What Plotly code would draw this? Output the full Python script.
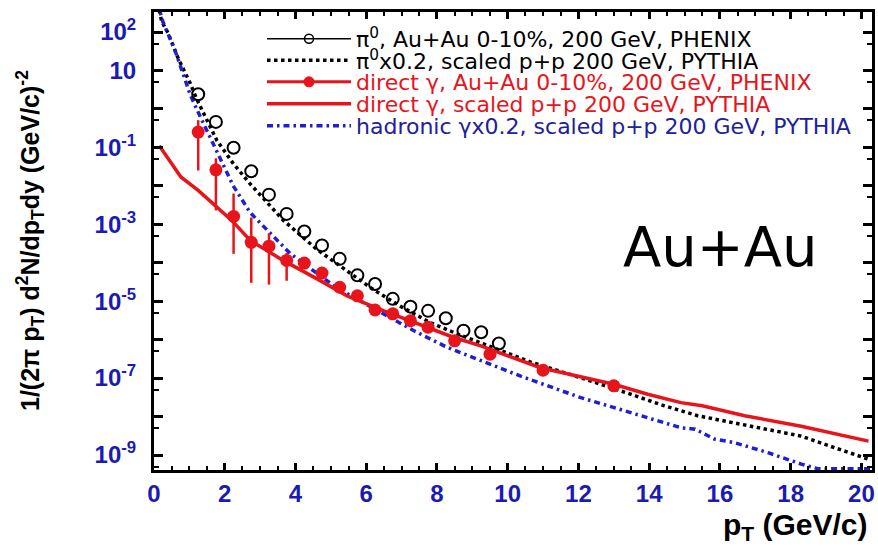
import plotly.graph_objects as go

# ---------------- data ----------------
pi0_pt = [1.25, 1.75, 2.25, 2.75, 3.25, 3.75, 4.25, 4.75, 5.25, 5.75,
          6.25, 6.75, 7.25, 7.75, 8.25, 8.75, 9.25, 9.75]
pi0_yield = [2.4, 0.46, 0.098, 0.024, 5.9e-3, 1.86e-3, 6.5e-4, 2.8e-4, 1.26e-4, 4.7e-5,
             2.8e-5, 1.15e-5, 7.2e-6, 5.6e-6, 3.6e-6, 1.7e-6, 1.55e-6, 7.9e-7]

gam_pt = [1.25, 1.75, 2.25, 2.75, 3.25, 3.75, 4.25, 4.75, 5.25, 5.75,
          6.25, 6.75, 7.25, 7.75, 8.5, 9.5, 11.0, 13.0]
gam_yield = [0.25, 0.026, 1.6e-3, 3.4e-4, 2.7e-4, 1.15e-4, 9.8e-5, 5.4e-5, 2.3e-5, 1.38e-5,
             5.9e-6, 4.7e-6, 3.1e-6, 2.1e-6, 9.3e-7, 4.2e-7, 1.6e-7, 6.3e-8]
gam_upper = [0.51, 0.052, 6.3e-3, 1.5e-3, 5.8e-4, 1.8e-4, 9.8e-5, 5.4e-5, 2.3e-5, 1.38e-5,
             5.9e-6, 4.7e-6, 3.1e-6, 2.1e-6, 9.3e-7, 4.2e-7, 1.6e-7, 6.3e-8]
gam_lower = [0.025, 2.3e-3, 1.7e-4, 3.0e-5, 2.7e-5, 3.4e-5, 9.8e-5, 5.4e-5, 2.3e-5, 1.38e-5,
             5.9e-6, 4.7e-6, 3.1e-6, 2.1e-6, 9.3e-7, 4.2e-7, 1.6e-7, 6.3e-8]

dirpy_pt = [0.15, 0.76, 1.25, 2.2, 2.72, 3.65, 4.61, 5.46, 6.5, 7.5,
            8.5, 9.24, 10.93, 13.0, 13.96, 14.9, 15.5, 16.7, 18.3, 20.2]
dirpy_yield = [0.11, 0.017, 7.6e-3, 1.26e-3, 3.8e-4, 1.15e-4, 3.8e-5, 1.38e-5, 5.6e-6, 2.5e-6,
               1.12e-6, 6.9e-7, 1.86e-7, 6.9e-8, 3.8e-8, 2.3e-8, 1.9e-8, 1.05e-8, 5.6e-9, 2.3e-9]

pi0py_pt = [0.1, 0.22, 0.40, 0.68, 1.02, 1.22, 1.78, 2.25, 2.72, 3.66,
            4.61, 5.6, 6.2, 7.0, 7.8, 8.7, 9.3, 10.65, 12.07, 13.48,
            14.43, 15.37, 16.03, 16.88, 18.3, 19.24, 20.2]
pi0py_yield = [560, 186, 93, 21, 4.7, 1.7, 0.15, 0.037, 0.0112, 1.26e-3,
               2.2e-4, 5.0e-5, 2.0e-5, 7.1e-6, 2.8e-6, 1.26e-6, 7.9e-7, 2.6e-7, 1.02e-7, 3.8e-8,
               1.9e-8, 1.05e-8, 7.9e-9, 5.6e-9, 3.1e-9, 1.55e-9, 7.8e-10]

hadpy_pt = [0.1, 0.25, 0.6, 1.02, 1.22, 1.44, 1.73, 2.24, 2.72, 3.29,
            3.85, 4.42, 5.18, 5.65, 6.5, 7.35, 8.29, 9.24, 10.37, 12.07,
            13.48, 14.9, 15.3, 15.84, 16.41, 17.36, 18.3, 18.77, 19.5, 20.3]
hadpy_yield = [560, 186, 32, 2.4, 0.93, 0.35, 0.1, 0.01, 2.0e-3, 5.8e-4,
               1.74e-4, 7.1e-5, 2.2e-5, 1.26e-5, 4.5e-6, 1.7e-6, 6.3e-7, 2.8e-7, 1.12e-7, 3.1e-8,
               1.26e-8, 5.1e-9, 4.7e-9, 2.6e-9, 2.1e-9, 1.15e-9, 5.8e-10, 4.4e-10, 4.4e-10, 4.4e-10]

x_tickvals = [0, 2, 4, 6, 8, 10, 12, 14, 16, 18, 20]
y_tickvals = [1e2, 1e1, 1e0, 1e-1, 1e-2, 1e-3, 1e-4, 1e-5, 1e-6, 1e-7, 1e-8, 1e-9]
y_ticktext = ["10<sup>2</sup>", "10", " ", "10<sup>-1</sup>", " ", "10<sup>-3</sup>", " ",
              "10<sup>-5</sup>", " ", "10<sup>-7</sup>", " ", "10<sup>-9</sup>"]
y_minorvals = [5e1, 5e0, 5e-1, 5e-2, 5e-3, 5e-4, 5e-5, 5e-6, 5e-7, 5e-8, 5e-9, 5e-10]

legend_names = [
    "π<sup>0</sup>, Au+Au 0-10%, 200 GeV, PHENIX",
    "π<sup>0</sup>x0.2, scaled p+p 200 GeV, PYTHIA",
    "direct γ, Au+Au 0-10%, 200 GeV, PHENIX",
    "direct γ, scaled p+p 200 GeV, PYTHIA",
    "hadronic γx0.2, scaled p+p 200 GeV, PYTHIA",
]

# ---------------- styles ----------------
RED = "#e8141c"
BLUE = "#1e1ed2"
TICKBLUE = "#1a1ab4"
LEGBLUE = "#20209a"
legend_colors = ["black", "black", RED, RED, LEGBLUE]

fig = go.Figure()

# model curves
fig.add_trace(go.Scatter(x=pi0py_pt, y=pi0py_yield, mode="lines",
                         line=dict(color="black", width=3.5, dash="dot"),
                         name=legend_names[1], legend="legend2"))
fig.add_trace(go.Scatter(x=hadpy_pt, y=hadpy_yield, mode="lines",
                         line=dict(color=BLUE, width=3.5, dash="6px,4px,2.5px,4px"),
                         name=legend_names[4], legend="legend5"))
fig.add_trace(go.Scatter(x=dirpy_pt, y=dirpy_yield, mode="lines",
                         line=dict(color=RED, width=3.5),
                         name=legend_names[3], legend="legend4"))

# data points
fig.add_trace(go.Scatter(x=pi0_pt, y=pi0_yield, mode="markers",
                         marker=dict(symbol="circle-open", size=12, color="black",
                                     line=dict(width=2, color="black")),
                         showlegend=False))
err_plus = [u - v for u, v in zip(gam_upper, gam_yield)]
err_minus = [v - l for v, l in zip(gam_yield, gam_lower)]
fig.add_trace(go.Scatter(x=gam_pt, y=gam_yield, mode="markers",
                         marker=dict(symbol="circle", size=13, color=RED),
                         error_y=dict(type="data", symmetric=False, array=err_plus,
                                      arrayminus=err_minus, color=RED, thickness=2.5, width=0),
                         showlegend=False))

# legend-only entries (line + marker samples)
fig.add_trace(go.Scatter(x=[None], y=[None], mode="lines+markers",
                         line=dict(color="black", width=1.5),
                         marker=dict(symbol="circle-open", size=9, color="black",
                                     line=dict(width=1.5, color="black")),
                         name=legend_names[0], legend="legend"))
fig.add_trace(go.Scatter(x=[None], y=[None], mode="lines+markers",
                         line=dict(color=RED, width=3),
                         marker=dict(symbol="circle", size=11, color=RED),
                         name=legend_names[2], legend="legend3"))

FONT = "Liberation Sans, Arial, sans-serif"
LEGFONT = "DejaVu Sans, sans-serif"

W, H = 878, 550
plot_top, plot_bottom, plot_left, plot_right = 12, 470, 154, 872
legend_y_px = [39, 60.5, 82, 104, 126]
leg_left_px = 262


def legend_cfg(i):
    return dict(
        x=(leg_left_px - plot_left) / (plot_right - plot_left),
        y=(plot_bottom - legend_y_px[i]) / (plot_bottom - plot_top),
        xanchor="left", yanchor="middle",
        bgcolor="rgba(0,0,0,0)", borderwidth=0,
        itemwidth=84,
        font=dict(family=LEGFONT, size=22, color=legend_colors[i]),
    )


axis_common = dict(
    showline=True, linewidth=3, linecolor="black", mirror="allticks",
    ticks="inside", tickcolor="black", tickwidth=2.5,
    showgrid=False, zeroline=False,
    tickfont=dict(family=FONT, size=24, color=TICKBLUE, weight="bold"),
)

fig.update_layout(
    width=W, height=H,
    margin=dict(l=plot_left, r=W - plot_right, t=plot_top, b=H - plot_bottom,
                autoexpand=False),
    paper_bgcolor="white", plot_bgcolor="white",
    showlegend=True,
    legend=legend_cfg(0), legend2=legend_cfg(1), legend3=legend_cfg(2),
    legend4=legend_cfg(3), legend5=legend_cfg(4),
    xaxis=dict(axis_common, range=[0, 20.3], tickmode="array", tickvals=x_tickvals,
               ticklen=7,
               minor=dict(dtick=0.5, ticks="inside", ticklen=4, tickwidth=2, tickcolor="black")),
    yaxis=dict(axis_common, type="log", range=[-9.39, 2.52], tickmode="array",
               tickvals=y_tickvals, ticktext=y_ticktext, ticklen=9,
               ticklabelstandoff=10,
               minor=dict(tickmode="array", tickvals=y_minorvals, ticks="inside",
                          ticklen=5, tickwidth=2, tickcolor="black")),
    annotations=[
        dict(text="1/(2π p<sub>T</sub>) d<sup>2</sup>N/dp<sub>T</sub>dy (GeV/c)<sup>-2</sup>",
             xref="paper", yref="paper", x=(30 - plot_left) / (plot_right - plot_left), y=0.5,
             xanchor="center", yanchor="middle", textangle=-90, showarrow=False,
             font=dict(family=FONT, size=25, color="black", weight="bold")),
        dict(text="p<sub>T</sub> (GeV/c)",
             xref="paper", yref="paper", x=(870 - plot_left) / (plot_right - plot_left),
             y=(plot_bottom - 526) / (plot_bottom - plot_top),
             xanchor="right", yanchor="middle", showarrow=False,
             font=dict(family=FONT, size=30, color="black", weight="bold")),
        dict(text="Au+Au", xref="paper", yref="paper",
             x=(720 - plot_left) / (plot_right - plot_left),
             y=(plot_bottom - 246) / (plot_bottom - plot_top),
             xanchor="center", yanchor="middle", showarrow=False,
             font=dict(family="DejaVu Sans, sans-serif", size=56, color="black")),
    ],
)

fig.write_html("out.html",
               config={"displayModeBar": False},
               post_script="document.body.style.margin='0px';"
                           "document.body.style.overflow='hidden';")
